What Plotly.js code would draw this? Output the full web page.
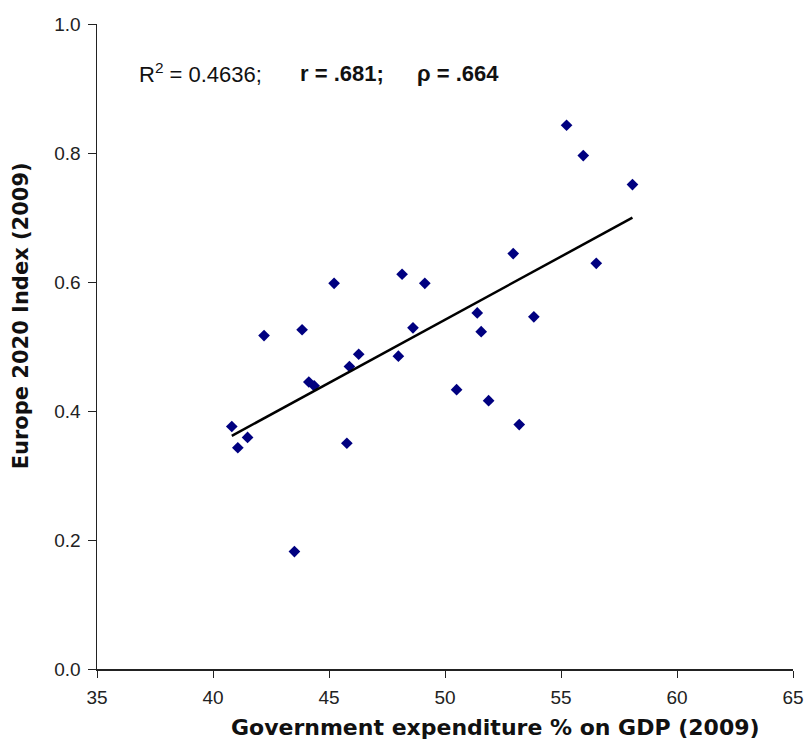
<!DOCTYPE html>
<html>
<head>
<meta charset="utf-8">
<script src="https://cdn.plot.ly/plotly-3.0.1.min.js"></script>
<style>html,body{margin:0;padding:0;background:#fff;}#chart{width:805px;height:740px;}</style>
</head>
<body>
<div id="chart"></div>
<script>
var govExpenditure = [40.81, 41.07, 41.49, 42.20, 43.84, 43.51, 44.13, 44.36, 45.22, 45.77, 45.88, 46.28, 47.99, 48.15, 48.62, 49.13, 50.50, 51.39, 51.56, 51.88, 52.94, 53.20, 53.83, 55.24, 55.96, 56.52, 58.08];
var europeIndex   = [0.376, 0.343, 0.359, 0.517, 0.526, 0.182, 0.445, 0.439, 0.598, 0.350, 0.469, 0.488, 0.485, 0.612, 0.529, 0.598, 0.433, 0.552, 0.523, 0.416, 0.644, 0.379, 0.546, 0.843, 0.796, 0.629, 0.751];
var xTicks = [35, 40, 45, 50, 55, 60, 65];
var yTicks = [0.0, 0.2, 0.4, 0.6, 0.8, 1.0];
var xTitle = 'Government expenditure % on GDP (2009)';
var yTitle = 'Europe 2020 Index (2009)';
var statR2 = 'R<sup>2</sup> = 0.4636;';
var statR = '<b>r = .681;</b>';
var statRho = '<b>ρ = .664</b>';

// least-squares fit from the data
var n = govExpenditure.length, sx = 0, sy = 0, sxx = 0, sxy = 0;
for (var i = 0; i < n; i++) { sx += govExpenditure[i]; sy += europeIndex[i]; sxx += govExpenditure[i]*govExpenditure[i]; sxy += govExpenditure[i]*europeIndex[i]; }
var slope = (n*sxy - sx*sy) / (n*sxx - sx*sx);
var intercept = (sy - slope*sx) / n;
var xMin = Math.min.apply(null, govExpenditure), xMax = Math.max.apply(null, govExpenditure);
var fitX = [xMin, xMax];
var fitY = fitX.map(function(v){ return intercept + slope*v; });

var tickFont = {family: 'Liberation Sans, Arial, sans-serif', size: 19, color: '#222'};
var xTitleFont = {family: 'DejaVu Sans, sans-serif', size: 22, color: '#111', weight: 'bold'};
var yTitleFont = {family: 'DejaVu Sans, sans-serif', size: 21, color: '#111', weight: 'bold'};
var statFont = {family: 'Liberation Sans, Arial, sans-serif', size: 22, color: '#111'};

var data = [
  {x: govExpenditure, y: europeIndex, type: 'scatter', mode: 'markers',
   marker: {symbol: 'diamond', size: 9, color: '#000080'}, hoverinfo: 'x+y', showlegend: false},
  {x: fitX, y: fitY, type: 'scatter', mode: 'lines',
   line: {color: '#000', width: 2.5}, hoverinfo: 'skip', showlegend: false}
];

var layout = {
  width: 805, height: 740,
  margin: {l: 97, r: 12, t: 24, b: 71},
  paper_bgcolor: '#fff', plot_bgcolor: '#fff',
  showlegend: false,
  xaxis: {range: [35, 65], tickvals: xTicks, ticktext: xTicks.map(String),
    showgrid: false, zeroline: false, showline: true, linecolor: '#222', linewidth: 1.5,
    ticks: 'outside', ticklen: 7, tickcolor: '#222', tickfont: tickFont, ticklabelstandoff: 4},
  yaxis: {range: [0, 1.0], tickvals: yTicks, ticktext: yTicks.map(function(v){return v.toFixed(1);}),
    showgrid: false, zeroline: false, showline: true, linecolor: '#222', linewidth: 1.5,
    ticks: 'outside', ticklen: 8, tickcolor: '#222', tickfont: tickFont, ticklabelstandoff: 3},
  annotations: [
    {xref: 'paper', yref: 'paper', x: 0.572, y: -0.09, xanchor: 'center', yanchor: 'middle',
     text: '<b>' + xTitle + '</b>', showarrow: false, font: xTitleFont},
    {xref: 'paper', yref: 'paper', x: -0.109, y: 0.547, xanchor: 'center', yanchor: 'middle',
     text: '<b>' + yTitle + '</b>', showarrow: false, textangle: -90, font: yTitleFont},
    {xref: 'paper', yref: 'paper', x: 0.057, y: 0.924, xanchor: 'left', yanchor: 'middle',
     text: statR2, showarrow: false, font: statFont},
    {xref: 'paper', yref: 'paper', x: 0.2888, y: 0.924, xanchor: 'left', yanchor: 'middle',
     text: statR, showarrow: false, font: statFont},
    {xref: 'paper', yref: 'paper', x: 0.457, y: 0.924, xanchor: 'left', yanchor: 'middle',
     text: statRho, showarrow: false, font: statFont}
  ]
};

Plotly.newPlot('chart', data, layout, {displayModeBar: false, staticPlot: true});
</script>
</body>
</html>
